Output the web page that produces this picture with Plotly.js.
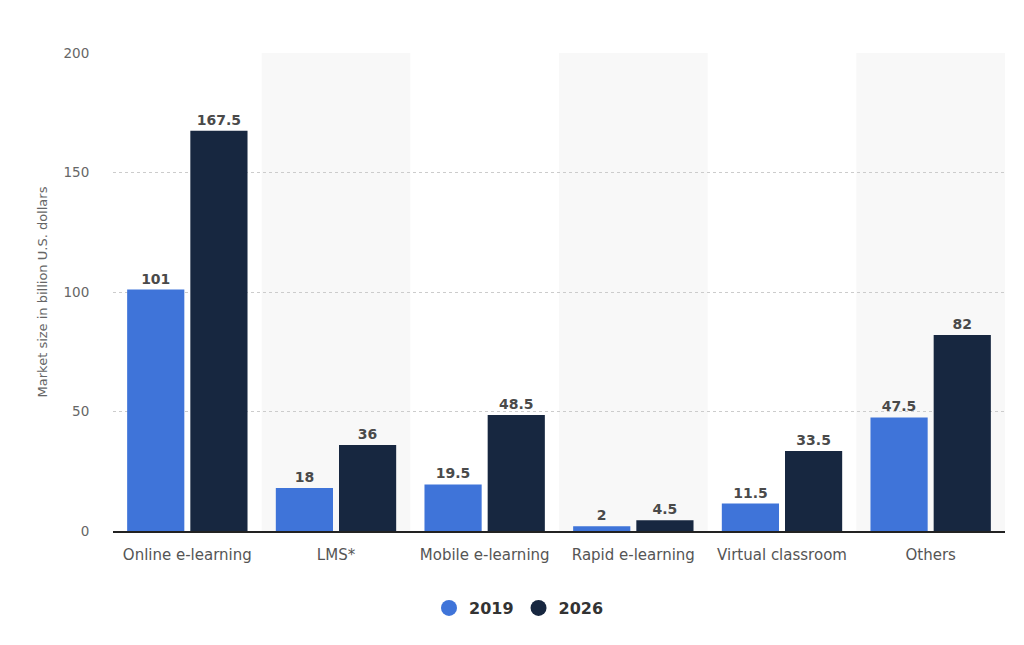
<!DOCTYPE html>
<html>
<head>
<meta charset="utf-8">
<script src="https://cdn.plot.ly/plotly-3.0.1.min.js"></script>
<style>
  html, body { margin: 0; padding: 0; background: #fff; }
  #myDiv { width: 1024px; height: 645px; }
</style>
</head>
<body>
<div id="myDiv"></div>
<script>
var graphDiv = 'myDiv'

var categories = ['Online e-learning', 'LMS*', 'Mobile e-learning', 'Rapid e-learning', 'Virtual classroom', 'Others']
var values2019 = [101, 18, 19.5, 2, 11.5, 47.5]
var values2026 = [167.5, 36, 48.5, 4.5, 33.5, 82]
var seriesNames = ['2019', '2026']
var yTicks = [0, 50, 100, 150, 200]

var blue = '#3f74d9'
var navy = '#172740'
var fontName = 'DejaVu Sans, Verdana, sans-serif'

var labelFont = { family: fontName, size: 14, color: '#4a4a4a', weight: 'bold' }

function barTrace(name, values, color) {
  return {
    type: 'bar',
    name: name,
    x: categories,
    y: values,
    marker: { color: color },
    text: values.map(String),
    textposition: 'outside',
    textfont: labelFont,
    cliponaxis: false,
    showlegend: false,
    hoverinfo: 'x+y'
  }
}

// legend entries drawn as circles, like the original
function legendTrace(name, color) {
  return {
    type: 'scatter',
    mode: 'markers',
    name: name,
    x: [null],
    y: [null],
    marker: { color: color, size: 17, symbol: 'circle' },
    showlegend: true,
    hoverinfo: 'skip'
  }
}

var data = [
  barTrace(seriesNames[0], values2019, blue),
  barTrace(seriesNames[1], values2026, navy),
  legendTrace(seriesNames[0], blue),
  legendTrace(seriesNames[1], navy)
]

// light bands behind every second category
var shapes = []
for (var i = 1; i < categories.length; i += 2) {
  shapes.push({
    type: 'rect', xref: 'x', yref: 'paper',
    x0: i - 0.5, x1: i + 0.5, y0: 0, y1: 1,
    fillcolor: '#f8f8f8', line: { width: 0 }, layer: 'below'
  })
}

var layout = {
  width: 1024,
  height: 645,
  margin: { l: 113, r: 19, t: 53, b: 114 },
  paper_bgcolor: '#fff',
  plot_bgcolor: '#fff',
  font: { family: fontName, color: '#555' },
  barmode: 'group',
  bargap: 0.15,
  bargroupgap: 0.095,
  shapes: shapes,
  xaxis: {
    type: 'category',
    range: [-0.5, categories.length - 0.5],
    showline: true,
    linecolor: '#222',
    linewidth: 1.5,
    ticks: 'outside',
    ticklen: 9,
    tickcolor: 'rgba(0,0,0,0)',
    tickfont: { size: 15, color: '#555' },
    showgrid: false,
    automargin: false,
    fixedrange: true
  },
  yaxis: {
    range: [0, 200],
    tickvals: yTicks,
    ticktext: yTicks.map(String),
    tickfont: { size: 13.5, color: '#666' },
    ticks: 'outside',
    ticklen: 20,
    tickcolor: 'rgba(0,0,0,0)',
    gridcolor: '#cccccc',
    griddash: 'dot',
    gridwidth: 1,
    zeroline: false,
    showline: false,
    automargin: false,
    title: { text: 'Market size in billion U.S. dollars', font: { size: 13, color: '#666' }, standoff: 12 },
    fixedrange: true
  },
  legend: {
    orientation: 'h',
    x: 0.5 + 7 / 1024, xanchor: 'center', xref: 'container',
    y: 37 / 645, yanchor: 'middle', yref: 'container',
    font: { size: 16, color: '#333', weight: 'bold' },
    itemwidth: 30
  },
  showlegend: true
}

Plotly.newPlot(graphDiv, data, layout, { displayModeBar: false, staticPlot: true })
</script>
</body>
</html>
